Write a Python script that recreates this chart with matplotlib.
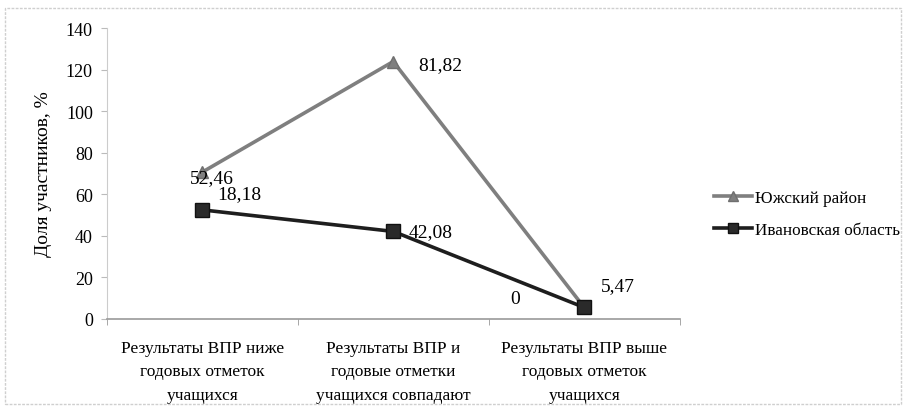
import matplotlib
matplotlib.use("Agg")
import matplotlib.pyplot as plt
import numpy as np
from matplotlib.patches import Rectangle

plt.rcParams['font.family'] = ['Liberation Serif', 'DejaVu Serif']

categories = ["Результаты ВПР ниже\nгодовых отметок\nучащихся",
              "Результаты ВПР и\nгодовые отметки\nучащихся совпадают",
              "Результаты ВПР выше\nгодовых отметок\nучащихся"]
ivanovo = [52.46, 42.08, 5.47]
yuzh = [18.18, 81.82, 0]
yuzh_labels = ["18,18", "81,82", "0"]
ivanovo_labels = ["52,46", "42,08", "5,47"]
yticks = [0, 20, 40, 60, 80, 100, 120, 140]

x = np.arange(len(categories))
yuzh_stacked = np.array(ivanovo) + np.array(yuzh)

fig = plt.figure(figsize=(9.05, 4.10), dpi=100)
ax = fig.add_axes([0.118, 0.22, 0.633, 0.709])

l1, = ax.plot(x, yuzh_stacked, color='#7f7f7f', lw=2.6, marker='^', ms=9,
              markerfacecolor='#7f7f7f', markeredgecolor='#6f6f6f', label='Южский район', zorder=3)
l2, = ax.plot(x, ivanovo, color='#1e1e1e', lw=2.6, marker='s', ms=10,
              markerfacecolor='#2a2a2a', markeredgecolor='#111111', label='Ивановская область', zorder=4)

# data labels (positions approximate Excel's placement)
fs = 14
ax.annotate(ivanovo_labels[0], (x[0], yuzh_stacked[0]), xytext=(7, -4), textcoords='offset points',
            ha='center', va='center', fontsize=fs, zorder=5)
ax.annotate(yuzh_labels[0], (x[0], ivanovo[0]), xytext=(27, 12), textcoords='offset points',
            ha='center', va='center', fontsize=fs, zorder=5)
ax.annotate(yuzh_labels[1], (x[1], yuzh_stacked[1]), xytext=(34, -2), textcoords='offset points',
            ha='center', va='center', fontsize=fs, zorder=5)
ax.annotate(ivanovo_labels[1], (x[1], ivanovo[1]), xytext=(27, 0), textcoords='offset points',
            ha='center', va='center', fontsize=fs, zorder=5)
ax.annotate(yuzh_labels[2], (x[2], yuzh_stacked[2]), xytext=(-50, 6.5), textcoords='offset points',
            ha='center', va='center', fontsize=fs, zorder=5)
ax.annotate(ivanovo_labels[2], (x[2], ivanovo[2]), xytext=(24, 16), textcoords='offset points',
            ha='center', va='center', fontsize=fs, zorder=5)

ax.set_xlim(-0.5, 2.5)
ax.set_ylim(0, 140)
ax.set_yticks(yticks)
ax.set_yticklabels([str(t) for t in yticks], fontsize=13)
ax.set_xticks(x)
ax.set_xticklabels(categories, fontsize=12.5, linespacing=1.65)
ax.tick_params(axis='x', which='major', length=0, pad=15)
ax.set_xticks([-0.5, 0.5, 1.5, 2.5], minor=True)
ax.tick_params(axis='x', which='minor', length=4, color='#999999')
ax.tick_params(axis='y', length=4, color='#bbbbbb', pad=6)
ax.set_ylabel("Доля участников, %", fontsize=14, labelpad=10)

for s in ['top', 'right']:
    ax.spines[s].set_visible(False)
ax.spines['left'].set_color('#cccccc')
ax.spines['bottom'].set_color('#999999')
ax.spines['bottom'].set_linewidth(1.2)

leg = fig.legend(handles=[l1, l2], loc='center left', bbox_to_anchor=(0.772, 0.475),
                 frameon=False, fontsize=12.3, handlelength=2.2, handletextpad=0.2,
                 labelspacing=0.95, markerscale=0.75)

# outer frame
fig.patches.append(Rectangle((0.006, 0.012), 0.99, 0.965, transform=fig.transFigure,
                             fill=False, edgecolor='#cfcfcf', lw=1.0, linestyle=(0, (2, 1))))

fig.savefig("out.png", dpi=100)
